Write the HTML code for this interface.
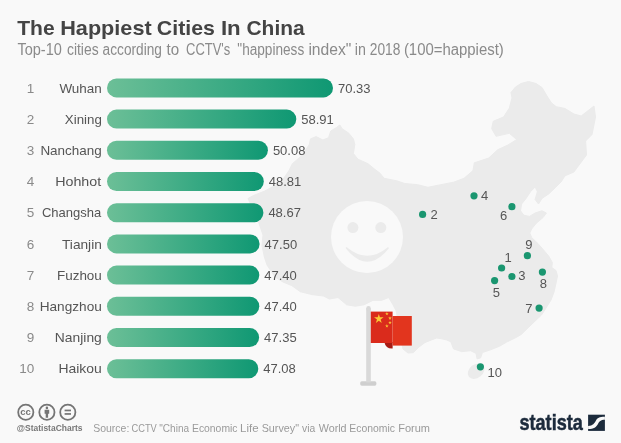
<!DOCTYPE html>
<html lang="en"><head><meta charset="utf-8"><title>The Happiest Cities In China</title>
<style>html,body{margin:0;padding:0;background:#f9f9f9;}body{width:621px;height:443px;overflow:hidden;}svg{display:block;}text{font-family:"Liberation Sans",sans-serif;}</style></head><body>
<svg width="621" height="443" viewBox="0 0 621 443">
<defs><linearGradient id="g" x1="0" y1="0" x2="1" y2="0"><stop offset="0" stop-color="#6cbf97"/><stop offset="1" stop-color="#0f9873"/></linearGradient></defs>
<rect width="621" height="443" fill="#f9f9f9"/>
<path fill="#ebebeb" stroke="#ebebeb" stroke-width="1" stroke-linejoin="round" d="M339.8 125.0 L342.1 128.7 L348.8 133.2 L353.4 138.9 L354.8 144.5 L353.4 153.5 L357.9 159.2 L368.0 163.7 L374.8 169.3 L380.0 173.2 L384.1 178.3 L397.0 180.9 L404.7 183.5 L417.6 184.7 L427.9 187.3 L440.8 184.7 L453.7 182.2 L464.0 178.3 L473.0 170.6 L474.3 162.8 L482.0 160.3 L488.8 158.0 L497.6 149.8 L507.9 145.0 L516.7 139.5 L509.3 133.3 L496.1 136.3 L491.7 128.7 L493.2 121.3 L503.5 117.0 L509.3 108.1 L512.0 98.0 L511.0 92.5 L515.5 87.0 L521.0 83.5 L528.5 81.5 L536.0 83.5 L542.0 87.5 L547.0 96.0 L551.5 103.0 L556.3 106.7 L565.0 108.5 L573.9 114.0 L581.2 116.0 L594.0 106.0 L595.5 117.0 L592.0 134.5 L585.6 141.0 L586.5 155.0 L579.8 164.0 L573.9 172.0 L565.0 175.8 L561.0 182.0 L555.5 187.5 L548.7 193.9 L542.0 198.4 L538.5 204.0 L535.1 199.5 L537.4 191.6 L535.1 187.0 L530.6 191.6 L526.1 198.4 L521.6 204.0 L520.5 210.8 L523.9 215.3 L529.5 216.4 L535.1 213.0 L542.0 210.8 L546.4 213.0 L543.0 217.6 L536.3 223.2 L531.8 228.8 L529.8 233.0 L531.6 237.5 L537.9 243.5 L544.2 250.7 L548.7 256.1 L552.3 262.4 L551.8 267.5 L556.0 270.5 L557.5 276.0 L556.0 283.2 L554.0 292.0 L551.0 300.0 L546.0 308.0 L541.5 315.0 L535.7 320.5 L528.4 327.5 L521.2 334.5 L515.8 337.6 L506.8 342.0 L499.6 346.2 L490.5 349.8 L482.4 352.5 L480.6 357.9 L477.0 358.8 L476.1 353.4 L470.7 350.7 L461.7 351.6 L453.5 348.9 L450.8 341.7 L446.7 340.0 L441.0 338.6 L436.5 338.0 L430.0 340.5 L425.0 342.5 L419.0 347.0 L413.3 352.6 L408.0 353.0 L403.0 349.0 L399.0 330.0 L397.0 315.0 L396.0 310.6 L393.0 304.8 L388.7 297.5 L381.4 300.4 L372.8 300.4 L364.0 304.8 L355.4 306.2 L346.7 304.8 L338.0 297.5 L329.3 299.0 L323.5 296.0 L311.9 294.6 L300.3 291.7 L291.6 285.5 L283.0 282.0 L275.0 277.0 L267.0 265.0 L264.4 257.0 L262.0 246.0 L263.0 235.0 L260.3 227.1 L256.0 215.0 L251.0 205.0 L248.0 198.5 L253.5 195.5 L264.8 191.0 L273.0 186.5 L280.0 182.9 L284.5 177.2 L289.0 170.5 L292.4 163.7 L300.3 156.9 L304.8 151.3 L309.3 144.5 L310.5 138.9 L316.1 136.6 L322.9 140.0 L328.5 137.7 L330.8 131.0 L336.4 127.6 Z"/>
<ellipse cx="476.1" cy="371.2" rx="9.2" ry="6.8" transform="rotate(-38 476.1 371.2)" fill="#ebebeb"/>
<circle cx="367" cy="237" r="36" fill="#f9f9f9"/>
<circle cx="352.9" cy="227.6" r="5.5" fill="#ebebeb"/><circle cx="380.8" cy="227.6" r="5.5" fill="#ebebeb"/>
<path d="M346.6 248 Q367.3 265 388 248 Q367.3 274 346.6 248 Z" fill="#ebebeb" stroke="#ebebeb" stroke-width="1.6" stroke-linejoin="round"/>
<text y="34.5" font-size="21" fill="#444" font-weight="bold"><tspan x="17.2" textLength="37.4" lengthAdjust="spacingAndGlyphs">The</tspan> <tspan x="60.2" textLength="91.5" lengthAdjust="spacingAndGlyphs">Happiest</tspan> <tspan x="156.8" textLength="58.1" lengthAdjust="spacingAndGlyphs">Cities</tspan> <tspan x="220.9" textLength="19.8" lengthAdjust="spacingAndGlyphs">In</tspan> <tspan x="246.5" textLength="58.1" lengthAdjust="spacingAndGlyphs">China</tspan></text>
<text y="55.3" font-size="16" fill="#8a8a8a" ><tspan x="17.4" textLength="44.4" lengthAdjust="spacingAndGlyphs">Top-10</tspan> <tspan x="67.0" textLength="31.6" lengthAdjust="spacingAndGlyphs">cities</tspan> <tspan x="102.6" textLength="59.3" lengthAdjust="spacingAndGlyphs">according</tspan> <tspan x="166.5" textLength="12.6" lengthAdjust="spacingAndGlyphs">to</tspan> <tspan x="186.1" textLength="44.2" lengthAdjust="spacingAndGlyphs">CCTV's</tspan> <tspan x="237.3" textLength="66.9" lengthAdjust="spacingAndGlyphs">&quot;happiness</tspan> <tspan x="308.4" textLength="43.0" lengthAdjust="spacingAndGlyphs">index&quot;</tspan> <tspan x="354.8" textLength="11.1" lengthAdjust="spacingAndGlyphs">in</tspan> <tspan x="369.8" textLength="30.6" lengthAdjust="spacingAndGlyphs">2018</tspan> <tspan x="403.9" textLength="99.9" lengthAdjust="spacingAndGlyphs">(100=happiest)</tspan></text>
<text x="34.2" y="92.5" font-size="13.5" fill="#8a8a8a" text-anchor="end">1</text>
<text x="59.4" y="92.5" font-size="13.5" fill="#555" textLength="42.4" lengthAdjust="spacingAndGlyphs">Wuhan</text>
<rect x="107" y="78.4" width="226.0" height="19" rx="9.5" fill="url(#g)"/>
<text x="338.0" y="92.5" font-size="13" fill="#555">70.33</text>
<text x="34.2" y="123.7" font-size="13.5" fill="#8a8a8a" text-anchor="end">2</text>
<text x="64.8" y="123.7" font-size="13.5" fill="#555" textLength="37.0" lengthAdjust="spacingAndGlyphs">Xining</text>
<rect x="107" y="109.6" width="189.3" height="19" rx="9.5" fill="url(#g)"/>
<text x="301.3" y="123.7" font-size="13" fill="#555">58.91</text>
<text x="34.2" y="154.9" font-size="13.5" fill="#8a8a8a" text-anchor="end">3</text>
<text x="40.4" y="154.9" font-size="13.5" fill="#555" textLength="61.4" lengthAdjust="spacingAndGlyphs">Nanchang</text>
<rect x="107" y="140.8" width="160.9" height="19" rx="9.5" fill="url(#g)"/>
<text x="272.9" y="154.9" font-size="13" fill="#555">50.08</text>
<text x="34.2" y="186.1" font-size="13.5" fill="#8a8a8a" text-anchor="end">4</text>
<text x="55.2" y="186.1" font-size="13.5" fill="#555" textLength="46.0" lengthAdjust="spacingAndGlyphs">Hohhot</text>
<rect x="107" y="172.0" width="156.8" height="19" rx="9.5" fill="url(#g)"/>
<text x="268.8" y="186.1" font-size="13" fill="#555">48.81</text>
<text x="34.2" y="217.3" font-size="13.5" fill="#8a8a8a" text-anchor="end">5</text>
<text x="41.9" y="217.3" font-size="13.5" fill="#555" textLength="59.4" lengthAdjust="spacingAndGlyphs">Changsha</text>
<rect x="107" y="203.2" width="156.4" height="19" rx="9.5" fill="url(#g)"/>
<text x="268.4" y="217.3" font-size="13" fill="#555">48.67</text>
<text x="34.2" y="248.5" font-size="13.5" fill="#8a8a8a" text-anchor="end">6</text>
<text x="62.0" y="248.5" font-size="13.5" fill="#555" textLength="39.8" lengthAdjust="spacingAndGlyphs">Tianjin</text>
<rect x="107" y="234.4" width="152.6" height="19" rx="9.5" fill="url(#g)"/>
<text x="264.6" y="248.5" font-size="13" fill="#555">47.50</text>
<text x="34.2" y="279.7" font-size="13.5" fill="#8a8a8a" text-anchor="end">7</text>
<text x="57.0" y="279.7" font-size="13.5" fill="#555" textLength="44.8" lengthAdjust="spacingAndGlyphs">Fuzhou</text>
<rect x="107" y="265.6" width="152.3" height="19" rx="9.5" fill="url(#g)"/>
<text x="264.3" y="279.7" font-size="13" fill="#555">47.40</text>
<text x="34.2" y="310.9" font-size="13.5" fill="#8a8a8a" text-anchor="end">8</text>
<text x="39.7" y="310.9" font-size="13.5" fill="#555" textLength="62.1" lengthAdjust="spacingAndGlyphs">Hangzhou</text>
<rect x="107" y="296.8" width="152.3" height="19" rx="9.5" fill="url(#g)"/>
<text x="264.3" y="310.9" font-size="13" fill="#555">47.40</text>
<text x="34.2" y="342.1" font-size="13.5" fill="#8a8a8a" text-anchor="end">9</text>
<text x="54.8" y="342.1" font-size="13.5" fill="#555" textLength="47.0" lengthAdjust="spacingAndGlyphs">Nanjing</text>
<rect x="107" y="328.0" width="152.1" height="19" rx="9.5" fill="url(#g)"/>
<text x="264.1" y="342.1" font-size="13" fill="#555">47.35</text>
<text x="34.2" y="373.3" font-size="13.5" fill="#8a8a8a" text-anchor="end">10</text>
<text x="58.5" y="373.3" font-size="13.5" fill="#555" textLength="43.3" lengthAdjust="spacingAndGlyphs">Haikou</text>
<rect x="107" y="359.2" width="151.3" height="19" rx="9.5" fill="url(#g)"/>
<text x="263.3" y="373.3" font-size="13" fill="#555">47.08</text>
<circle cx="501.6" cy="268.0" r="3.6" fill="#1a9670"/>
<text x="508.0" y="262.0" font-size="13" fill="#555" text-anchor="middle">1</text>
<circle cx="422.6" cy="214.4" r="3.6" fill="#1a9670"/>
<text x="434.0" y="219.3" font-size="13" fill="#555" text-anchor="middle">2</text>
<circle cx="511.9" cy="276.5" r="3.6" fill="#1a9670"/>
<text x="521.8" y="280.2" font-size="13" fill="#555" text-anchor="middle">3</text>
<circle cx="474.0" cy="195.8" r="3.6" fill="#1a9670"/>
<text x="484.6" y="200.4" font-size="13" fill="#555" text-anchor="middle">4</text>
<circle cx="494.6" cy="280.6" r="3.6" fill="#1a9670"/>
<text x="496.3" y="296.9" font-size="13" fill="#555" text-anchor="middle">5</text>
<circle cx="511.9" cy="206.7" r="3.6" fill="#1a9670"/>
<text x="503.7" y="219.5" font-size="13" fill="#555" text-anchor="middle">6</text>
<circle cx="539.1" cy="308.1" r="3.6" fill="#1a9670"/>
<text x="528.8" y="312.6" font-size="13" fill="#555" text-anchor="middle">7</text>
<circle cx="542.4" cy="272.1" r="3.6" fill="#1a9670"/>
<text x="543.3" y="287.6" font-size="13" fill="#555" text-anchor="middle">8</text>
<circle cx="527.4" cy="255.7" r="3.6" fill="#1a9670"/>
<text x="528.9" y="248.8" font-size="13" fill="#555" text-anchor="middle">9</text>
<circle cx="480.4" cy="366.8" r="3.6" fill="#1a9670"/>
<text x="494.7" y="376.6" font-size="13" fill="#555" text-anchor="middle">10</text>
<rect x="360.2" y="381.3" width="16.2" height="4.4" rx="1.6" fill="#cfcfcf"/>
<rect x="366.2" y="308.4" width="4.6" height="74" fill="#d9d9d9"/><circle cx="368.5" cy="308.4" r="2.3" fill="#d9d9d9"/>
<path d="M384.3 342 L392.6 342 L392.6 348.6 Q385.8 349 384.3 342 Z" fill="#a81b14"/>
<rect x="370.8" y="311.6" width="21.8" height="31.4" fill="#da2b1c"/>
<rect x="392.6" y="316" width="19.2" height="29.6" fill="#e2351e"/>
<polygon points="378.80,313.90 379.92,317.35 383.56,317.35 380.62,319.49 381.74,322.95 378.80,320.81 375.86,322.95 376.98,319.49 374.04,317.35 377.68,317.35" fill="#fbc936"/>
<polygon points="386.90,311.90 387.33,313.21 388.71,313.21 387.59,314.02 388.02,315.34 386.90,314.53 385.78,315.34 386.21,314.02 385.09,313.21 386.47,313.21" fill="#fbc936"/>
<polygon points="390.00,316.30 390.43,317.61 391.81,317.61 390.69,318.42 391.12,319.74 390.00,318.93 388.88,319.74 389.31,318.42 388.19,317.61 389.57,317.61" fill="#fbc936"/>
<polygon points="390.00,320.70 390.43,322.01 391.81,322.01 390.69,322.82 391.12,324.14 390.00,323.33 388.88,324.14 389.31,322.82 388.19,322.01 389.57,322.01" fill="#fbc936"/>
<polygon points="386.90,324.10 387.33,325.41 388.71,325.41 387.59,326.22 388.02,327.54 386.90,326.73 385.78,327.54 386.21,326.22 385.09,325.41 386.47,325.41" fill="#fbc936"/>
<circle cx="25.8" cy="412.3" r="7.6" fill="none" stroke="#757575" stroke-width="1.8"/>
<circle cx="46.9" cy="412.3" r="7.6" fill="none" stroke="#757575" stroke-width="1.8"/>
<circle cx="67.8" cy="412.3" r="7.6" fill="none" stroke="#757575" stroke-width="1.8"/>
<text x="25.6" y="415.3" font-size="9.5" font-weight="bold" fill="#757575" text-anchor="middle" textLength="10.6" lengthAdjust="spacingAndGlyphs">cc</text>
<circle cx="46.9" cy="407.9" r="1.3" fill="#757575"/><path d="M44.6 409.8h4.6v4h-1.1v4h-2.4v-4h-1.1z" fill="#757575"/>
<rect x="64.6" y="409.6" width="6.4" height="1.7" fill="#757575"/><rect x="64.6" y="413.1" width="6.4" height="1.7" fill="#757575"/>
<text x="16.8" y="431.3" font-size="8.6" font-weight="bold" fill="#777" textLength="65.7" lengthAdjust="spacingAndGlyphs">@StatistaCharts</text>
<text y="431.6" font-size="10.5" fill="#9a9a9a" ><tspan x="93.2" textLength="36.1" lengthAdjust="spacingAndGlyphs">Source:</tspan> <tspan x="131.5" textLength="25.3" lengthAdjust="spacingAndGlyphs">CCTV</tspan> <tspan x="159.3" textLength="29.8" lengthAdjust="spacingAndGlyphs">&quot;China</tspan> <tspan x="192.0" textLength="45.5" lengthAdjust="spacingAndGlyphs">Economic</tspan> <tspan x="240.1" textLength="18.5" lengthAdjust="spacingAndGlyphs">Life</tspan> <tspan x="261.7" textLength="37.3" lengthAdjust="spacingAndGlyphs">Survey&quot;</tspan> <tspan x="302.1" textLength="13.2" lengthAdjust="spacingAndGlyphs">via</tspan> <tspan x="318.7" textLength="27.9" lengthAdjust="spacingAndGlyphs">World</tspan> <tspan x="349.3" textLength="45.7" lengthAdjust="spacingAndGlyphs">Economic</tspan> <tspan x="398.2" textLength="31.8" lengthAdjust="spacingAndGlyphs">Forum</tspan></text>
<text x="519.5" y="430" font-size="21.5" font-weight="bold" fill="#1c2b3c" stroke="#1c2b3c" stroke-width="0.5" textLength="63.3" lengthAdjust="spacingAndGlyphs">statista</text>
<rect x="588.1" y="414.7" width="16.8" height="16.2" fill="#1c2b3c"/>
<path d="M588.1 425.9 C593 425.9 594.5 423 596 420.5 C597.5 418 599 416.8 604.9 416.8 L604.9 419.8 C600.5 419.8 599.3 421.5 598 424 C596.3 427 594 429 588.1 429 Z" fill="#f9f9f9"/>
</svg></body></html>
